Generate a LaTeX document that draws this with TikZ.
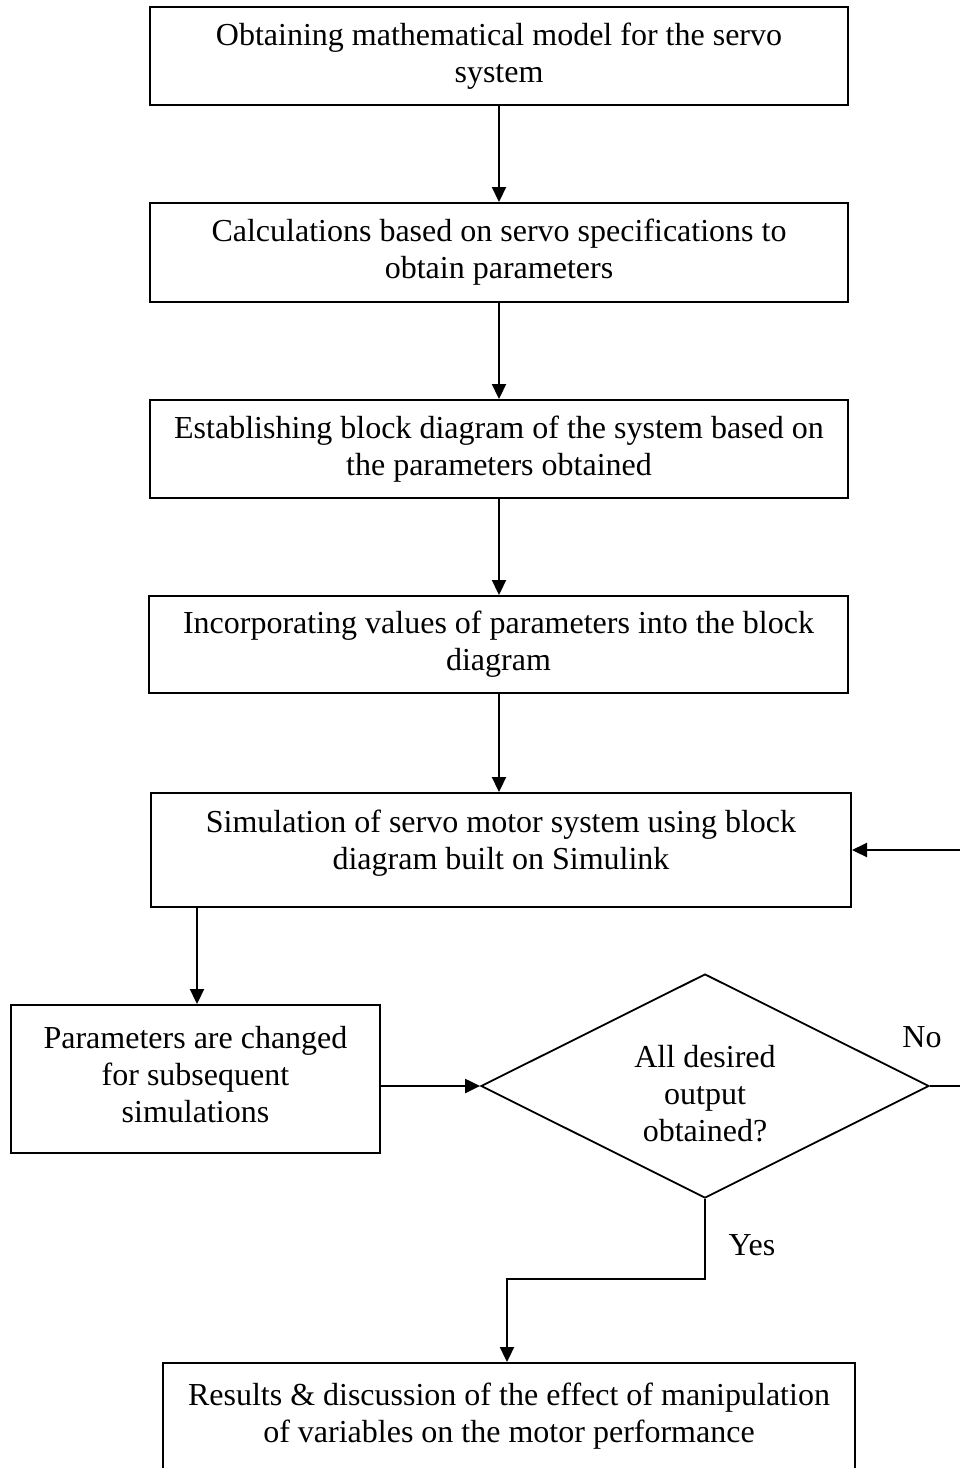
\documentclass[tikz,border=0pt]{standalone}
\usepackage{fontspec}
\setmainfont{Liberation Serif}
\usetikzlibrary{arrows.meta,shapes.geometric}
\begin{document}
\begin{tikzpicture}[x=1pt,y=-1pt,
  every node/.style={font=\fontsize{32}{37}\selectfont},
  box/.style={draw,line width=2pt,rectangle,align=center,inner sep=0pt},
  lbl/.style={inner sep=0pt,align=center},
  conn/.style={line width=2.2pt,-{Triangle[length=15pt,width=14pt]}},
  plain/.style={line width=2pt}]
\useasboundingbox (0,0) rectangle (960,1468);
\clip (0,0) rectangle (960,1468);
\node[box,minimum width=698pt,minimum height=98pt] (b1) at (499,56) {Obtaining mathematical model for the servo\\system};
\node[box,minimum width=698pt,minimum height=99pt] (b2) at (499,252.5) {Calculations based on servo specifications to\\obtain parameters};
\node[box,minimum width=698pt,minimum height=98pt] (b3) at (499,449) {Establishing block diagram of the system based on\\the parameters obtained};
\node[box,minimum width=699pt,minimum height=97pt] (b4) at (498.5,644.5) {Incorporating values of parameters into the block\\diagram};
\node[box,minimum width=700pt,minimum height=114pt] (b5) at (501,850) {};
\node[lbl] at (501,843) {Simulation of servo motor system using block\\diagram built on Simulink};
\node[box,minimum width=369pt,minimum height=148pt] (b6) at (195.5,1079) {};
\node[lbl] at (195.5,1075) {Parameters are changed\\for subsequent\\simulations};
\node[draw,line width=1.8pt,diamond,minimum width=448pt,minimum height=224pt,aspect=2,inner sep=0pt] (d) at (705,1086) {};
\node[lbl] at (705,1094) {All desired\\output\\obtained?};
\node[box,minimum width=692pt,minimum height=112pt] (b7) at (509,1419) {};
\node[lbl] at (509,1416) {Results \& discussion of the effect of manipulation\\of variables on the motor performance};
\node[lbl] (no) at (922,1037) {No};
\node[lbl] (yes) at (752,1245) {Yes};
\coordinate (rx) at (962,850);
\coordinate (y1) at (705,1279);
\coordinate (y2) at (507,1279);
\draw[conn] (b1.south) -- (b2.north);
\draw[conn] (b2.south) -- (b3.north);
\draw[conn] (b3.south) -- (b4.north -| b3.south);
\draw[conn] (b4.south -| b3.south) -- (b5.north -| b3.south);
\draw[conn] (b5.south -| 197,0) -- (b6.north -| 197,0);
\draw[conn] (b6.east |- d.west) -- (d.west);
\draw[conn] (d.east) -- (d.east -| rx) -- (rx) -- (b5.east);
\draw[conn] (d.south) -- (y1) -- (y2) -- (b7.north -| y2);
\end{tikzpicture}
\end{document}
